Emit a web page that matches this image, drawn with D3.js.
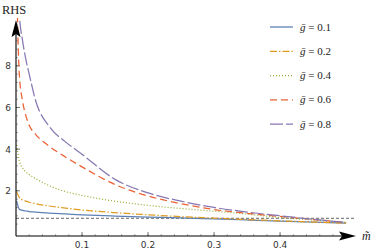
<!DOCTYPE html>
<html>
<head>
<meta charset="utf-8">
<script src="https://cdn.jsdelivr.net/npm/d3@7"></script>
<style>
  body { margin: 0; background: #fff; }
  svg { display: block; }
  .tick-label { font-family: "DejaVu Sans", sans-serif; font-size: 9px; fill: #333; }
  .serif { font-family: "Liberation Serif", "DejaVu Serif", serif; fill: #222; }
</style>
</head>
<body>
<div id="chart-area"></div>
<script>
// values
var mValues = [0.001, 0.005, 0.01, 0.015, 0.02, 0.03, 0.05, 0.075, 0.1, 0.15, 0.2, 0.25, 0.3, 0.35, 0.4, 0.45, 0.5];
var g01 = [1.5, 1.12, 1.06, 1.03, 1.0, 0.98, 0.93, 0.89, 0.85, 0.79, 0.74, 0.7, 0.65, 0.6, 0.55, 0.5, 0.45];
var g02 = [1.96, 1.68, 1.56, 1.5, 1.45, 1.38, 1.27, 1.17, 1.08, 0.95, 0.85, 0.76, 0.69, 0.62, 0.56, 0.5, 0.45];
var g04 = [4.2, 3.45, 3.1, 2.9, 2.78, 2.58, 2.25, 1.96, 1.78, 1.5, 1.3, 1.15, 1.02, 0.88, 0.72, 0.6, 0.48];
var g06 = [12, 7.6, 6.3, 5.6, 5.15, 4.7, 4.15, 3.62, 3.15, 2.3, 1.75, 1.38, 1.1, 0.92, 0.77, 0.62, 0.48];
var g08 = [14, 10.5, 9.2, 8.3, 7.6, 6.3, 5.1, 4.35, 3.75, 2.55, 1.9, 1.5, 1.2, 0.98, 0.8, 0.63, 0.48];
var seriesNames = ['ḡ = 0.1', 'ḡ = 0.2', 'ḡ = 0.4', 'ḡ = 0.6', 'ḡ = 0.8'];
var xTicks = [0.1, 0.2, 0.3, 0.4];
var yTicks = [2, 4, 6, 8];
var refValue = [0.68];

var colors = ['#5e81b5', '#e19c24', '#8fb032', '#eb6235', '#8778b3'];
var dashes = ['none', '7,2,1.5,2', '1,2', '7,4', '13,3'];
var allSeries = [g01, g02, g04, g06, g08];

var width = 374, height = 252;
var svg = d3.select('#chart-area').append('svg')
  .attr('width', width)
  .attr('height', height);

// scales
var x = d3.scaleLinear().domain([0, 0.515]).range([16, 356]);
var y = d3.scaleLinear().domain([-0.17, 10.2]).range([236, 20]);

svg.append('clipPath').attr('id', 'plot-clip')
  .append('rect')
  .attr('x', 16).attr('y', 18)
  .attr('width', 340).attr('height', 218);

// minor ticks
var xMinor = d3.range(0.02, 0.5, 0.02);
var yMinor = d3.range(0.4, 10.1, 0.4);
svg.selectAll('.xminor').data(xMinor).enter().append('line')
  .attr('x1', d => x(d)).attr('x2', d => x(d))
  .attr('y1', 236).attr('y2', 234)
  .attr('stroke', '#777').attr('stroke-width', 0.6);
svg.selectAll('.yminor').data(yMinor).enter().append('line')
  .attr('x1', 16).attr('x2', 18)
  .attr('y1', d => y(d)).attr('y2', d => y(d))
  .attr('stroke', '#777').attr('stroke-width', 0.6);

// major ticks + labels
svg.selectAll('.xmajor').data(xTicks).enter().append('line')
  .attr('x1', d => x(d)).attr('x2', d => x(d))
  .attr('y1', 236).attr('y2', 232)
  .attr('stroke', '#555').attr('stroke-width', 0.8);
svg.selectAll('.xlab').data(xTicks).enter().append('text')
  .attr('class', 'tick-label')
  .attr('x', d => x(d)).attr('y', 248)
  .attr('text-anchor', 'middle')
  .text(d => d3.format('.1f')(d));
svg.selectAll('.ymajor').data(yTicks).enter().append('line')
  .attr('x1', 16).attr('x2', 20)
  .attr('y1', d => y(d)).attr('y2', d => y(d))
  .attr('stroke', '#555').attr('stroke-width', 0.8);
svg.selectAll('.ylab').data(yTicks).enter().append('text')
  .attr('class', 'tick-label')
  .attr('x', 11).attr('y', d => y(d) + 3.5)
  .attr('text-anchor', 'end')
  .text(d => d);

// dashed reference line
svg.selectAll('.ref').data(refValue).enter().append('line')
  .attr('x1', 16).attr('x2', 355)
  .attr('y1', d => y(d)).attr('y2', d => y(d))
  .attr('stroke', '#555').attr('stroke-width', 0.9)
  .attr('stroke-dasharray', '3,2');

// curves
var line = d3.line()
  .x((d, i) => x(mValues[i]))
  .y(d => y(d))
  .curve(d3.curveMonotoneX);

var curves = svg.append('g').attr('clip-path', 'url(#plot-clip)');
allSeries.forEach((s, i) => {
  curves.append('path')
    .attr('fill', 'none')
    .attr('stroke', colors[i])
    .attr('stroke-width', 1.25)
    .attr('stroke-dasharray', dashes[i])
    .attr('d', line(s));
});

// axes with arrowheads
svg.append('line')
  .attr('x1', 16).attr('x2', 16).attr('y1', 236).attr('y2', 30)
  .attr('stroke', '#000').attr('stroke-width', 1.1);
svg.append('path')
  .attr('d', 'M16,20 L11.5,37 L16,34 L20.5,37 Z')
  .attr('fill', '#000');
svg.append('line')
  .attr('x1', 16).attr('x2', 345).attr('y1', 236).attr('y2', 236)
  .attr('stroke', '#000').attr('stroke-width', 1.1);
svg.append('path')
  .attr('d', 'M356,236 L339,231.5 L342,236 L339,240.5 Z')
  .attr('fill', '#000');

// axis titles
svg.append('text').attr('class', 'serif')
  .attr('x', 2).attr('y', 14)
  .attr('font-size', 12.5)
  .text('RHS');
svg.append('text').attr('class', 'serif')
  .attr('x', 362).attr('y', 240)
  .attr('font-size', 12)
  .attr('font-style', 'italic')
  .text('m̃');

// legend
var legend = svg.append('g');
seriesNames.forEach((name, i) => {
  var ly = 27 + i * 24.3;
  legend.append('line')
    .attr('x1', 270).attr('x2', 293)
    .attr('y1', ly).attr('y2', ly)
    .attr('stroke', colors[i])
    .attr('stroke-width', 1.3)
    .attr('stroke-dasharray', dashes[i]);
  var t = legend.append('text').attr('class', 'serif')
    .attr('x', 300).attr('y', ly + 3.5)
    .attr('font-size', 11);
  t.append('tspan').attr('font-style', 'italic').text(name.slice(0, 1));
  t.append('tspan').text(name.slice(1));
});
</script>
</body>
</html>
